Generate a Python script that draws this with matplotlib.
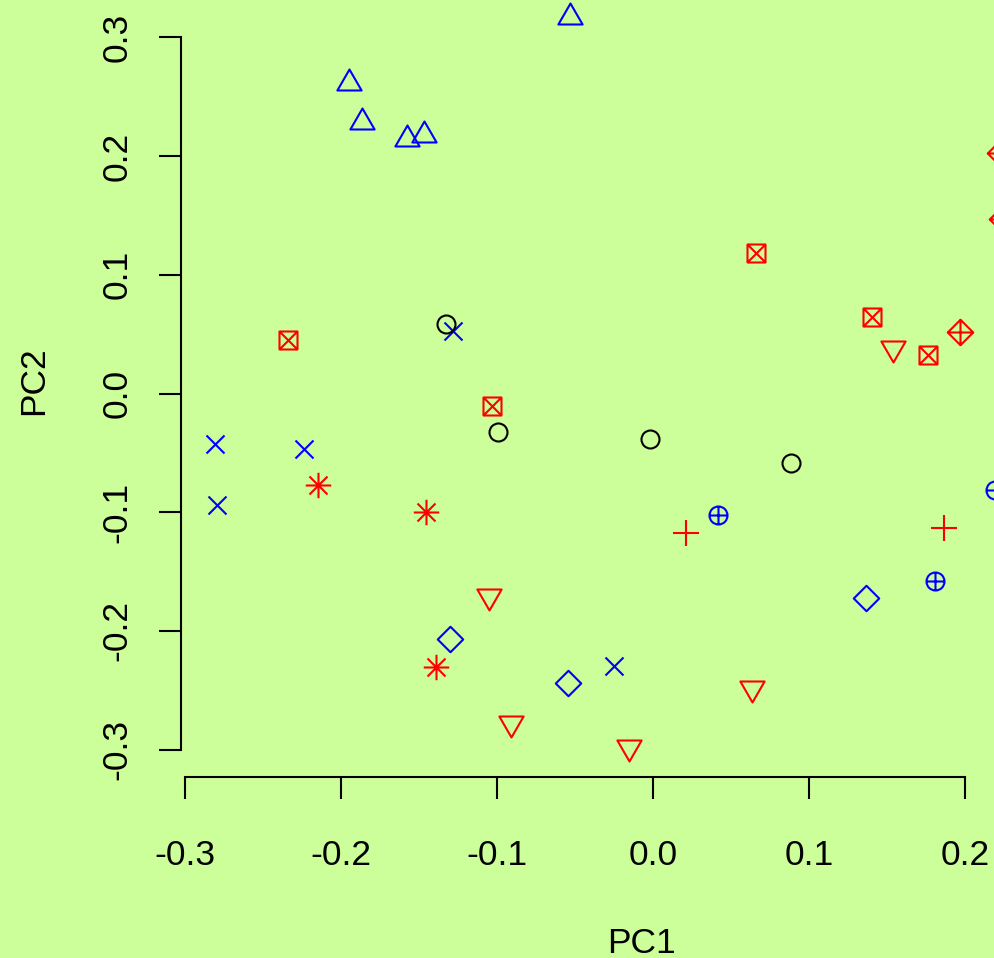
import matplotlib
matplotlib.use("Agg")
import matplotlib.pyplot as plt
from matplotlib.path import Path
from matplotlib.markers import MarkerStyle

plt.rcParams["font.family"] = ["Liberation Sans", "DejaVu Sans"]
plt.rcParams["axes.unicode_minus"] = False

BG = "#CCFF99"
BLUE = "#0000FF"
RED = "#FF0000"
BLACK = "#000000"

# ── Données (PC1, PC2) par symbole ────────────────────────────────────────────
tri_up_x = [-0.1947, -0.1863, -0.1577, -0.1468, -0.0530]
tri_up_y = [0.2618, 0.2286, 0.2142, 0.2179, 0.3171]

cross_x = [-0.2810, -0.2795, -0.2235, -0.1280, -0.0248]
cross_y = [-0.0425, -0.0942, -0.0465, 0.0527, -0.2293]

circle_x = [-0.1327, -0.0994, -0.0021, 0.0885]
circle_y = [0.0588, -0.0327, -0.0386, -0.0583]

sqx_x = [-0.2340, -0.1030, 0.0660, 0.1402, 0.1765]
sqx_y = [0.0447, -0.0108, 0.1181, 0.0647, 0.0327]

aster_x = [-0.2149, -0.1455, -0.1391]
aster_y = [-0.0771, -0.0996, -0.2302]

tri_down_x = [-0.1049, -0.0908, -0.0152, 0.0637, 0.1540]
tri_down_y = [-0.1706, -0.2778, -0.2980, -0.2480, 0.0380]

diamond_x = [-0.1301, -0.0545, 0.1363]
diamond_y = [-0.2066, -0.2441, -0.1725]

cplus_x = [0.0417, 0.1810, 0.2191]
cplus_y = [-0.1021, -0.1577, -0.0813]

plus_x = [0.0212, 0.1867]
plus_y = [-0.1173, -0.1136]

dplus_x = [0.1968, 0.2224, 0.2237]
dplus_y = [0.0516, 0.2029, 0.1468]

x_ticks = [-0.3, -0.2, -0.1, 0.0, 0.1, 0.2]
x_labels = ["-0.3", "-0.2", "-0.1", "0.0", "0.1", "0.2"]
y_ticks = [-0.3, -0.2, -0.1, 0.0, 0.1, 0.2, 0.3]
y_labels = ["-0.3", "-0.2", "-0.1", "0.0", "0.1", "0.2", "0.3"]


# ── Symboles façon R (pch) ────────────────────────────────────────────────────
S2 = 2 ** 0.5
TRC0, TRC1, TRC2 = 1.5551, 1.3468, 0.7776
M, L, C = Path.MOVETO, Path.LINETO, Path.CLOSEPOLY


def segs(*pairs):
    verts, codes = [], []
    for a, b in pairs:
        verts += [a, b]
        codes += [M, L]
    return Path(verts, codes)


def poly(pts):
    return Path(pts + [pts[0]], [M] + [L] * (len(pts) - 1) + [C])


def sq(r):
    return poly([(-r, -r), (r, -r), (r, r), (-r, r)])


def diam(r):
    return poly([(r, 0), (0, r), (-r, 0), (0, -r)])


MARKERS = {
    "circle": (Path.unit_circle(), 1.0),
    "tri_up": (poly([(0, TRC0), (TRC1, -TRC2), (-TRC1, -TRC2)]), TRC0),
    "tri_down": (poly([(0, -TRC0), (TRC1, TRC2), (-TRC1, TRC2)]), TRC0),
    "plus": (segs(((-S2, 0), (S2, 0)), ((0, -S2), (0, S2))), S2),
    "cross": (segs(((-1, -1), (1, 1)), ((-1, 1), (1, -1))), 1.0),
    "diamond": (diam(S2), S2),
    "sqx": (Path.make_compound_path(sq(1), segs(((-1, -1), (1, 1)), ((-1, 1), (1, -1)))), 1.0),
    "aster": (segs(((-1, -1), (1, 1)), ((-1, 1), (1, -1)),
                   ((-S2, 0), (S2, 0)), ((0, -S2), (0, S2))), S2),
    "dplus": (Path.make_compound_path(diam(S2), segs(((-S2, 0), (S2, 0)), ((0, -S2), (0, S2)))), S2),
    "cplus": (Path.make_compound_path(Path.unit_circle(), segs(((-1, 0), (1, 0)), ((0, -1), (0, 1)))), 1.0),
}

R_PT = 6.48  # rayon du symbole en points


def pts(ax, xs, ys, kind, color):
    path, ext = MARKERS[kind]
    ax.plot(xs, ys, linestyle="none", marker=MarkerStyle(path),
            markersize=2 * ext * R_PT, markerfacecolor="none",
            markeredgecolor=color, markeredgewidth=1.5, clip_on=False)


W, H = 994, 958
fig = plt.figure(figsize=(W / 100, H / 100), dpi=100, facecolor=BG)
ax = fig.add_axes([181 / W, 1 - 777 / H, (1102 - 181) / W, (777 + 17) / H])
ax.set_facecolor("none")
ax.set_xlim(-0.302564, 0.28782)
ax.set_ylim(-0.32308, 0.34583)

pts(ax, tri_up_x, tri_up_y, "tri_up", BLUE)
pts(ax, cross_x, cross_y, "cross", BLUE)
pts(ax, circle_x, circle_y, "circle", BLACK)
pts(ax, sqx_x, sqx_y, "sqx", RED)
pts(ax, aster_x, aster_y, "aster", RED)
pts(ax, tri_down_x, tri_down_y, "tri_down", RED)
pts(ax, diamond_x, diamond_y, "diamond", BLUE)
pts(ax, cplus_x, cplus_y, "cplus", BLUE)
pts(ax, plus_x, plus_y, "plus", RED)
pts(ax, dplus_x, dplus_y, "dplus", RED)

for side in ("top", "right"):
    ax.spines[side].set_visible(False)
for side in ("left", "bottom"):
    ax.spines[side].set_linewidth(1.5)
    ax.spines[side].set_capstyle("projecting")
ax.spines["left"].set_bounds(-0.3, 0.3)
ax.spines["bottom"].set_bounds(-0.3, 0.2)

ax.set_xticks(x_ticks)
ax.set_xticklabels(x_labels, fontsize=25.5, va="baseline")
ax.set_yticks(y_ticks)
ax.set_yticklabels(y_labels, fontsize=25.5, rotation=90,
                   rotation_mode="anchor", ha="center", va="baseline")
ax.tick_params(axis="both", direction="out", length=16, width=1.5, colors=BLACK)
ax.tick_params(axis="x", pad=47.5)
ax.tick_params(axis="y", pad=23)

fig.text(641.5 / W, 1 - 953.3 / H, "PC1", fontsize=25.5, ha="center", va="baseline")
fig.text(43 / W, 1 - 381 / H, "PC2", fontsize=25.5, rotation=90,
         rotation_mode="anchor", ha="center", va="baseline")

fig.savefig("out.png", dpi=100, facecolor=BG)
